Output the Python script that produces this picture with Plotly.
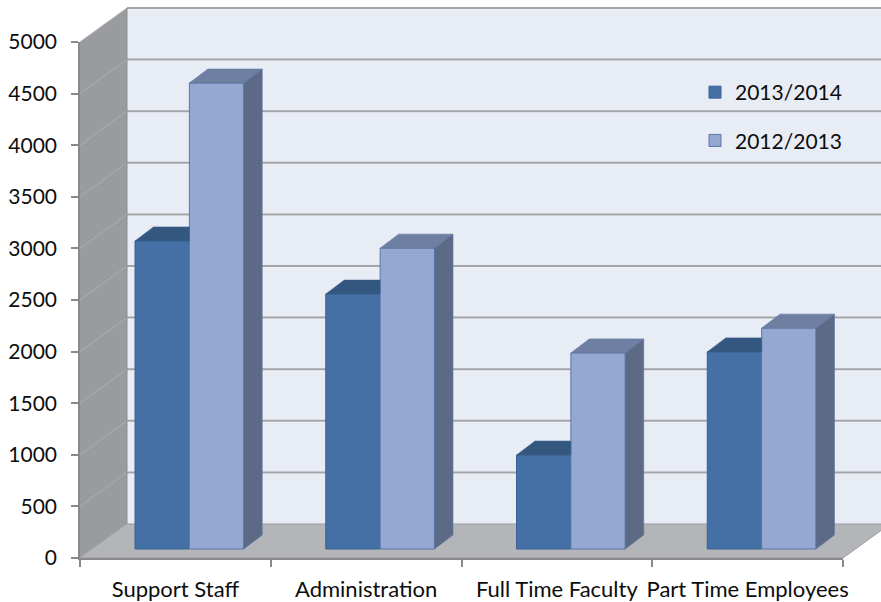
import plotly.graph_objects as go

# ---------------- data ----------------
categories = ["Support Staff", "Administration", "Full Time Faculty", "Part Time Employees"]
series_names = ["2013/2014", "2012/2013"]
values_2013_2014 = [2985, 2470, 910, 1910]
values_2012_2013 = [4515, 2915, 1900, 2140]
y_ticks = [0, 500, 1000, 1500, 2000, 2500, 3000, 3500, 4000, 4500, 5000]

# ---------------- style ----------------
FONT = "Lato"
FS = 21
FS_X = 22
W, H = 881, 602
ML, MR, MT, MB = 80, 38, 42, 44
PW, PH = W - ML - MR, H - MT - MB
YMAX = 5000

front_cols = ["#4470a5", "#95a8d1"]
top_cols = ["#34577f", "#6e7fa1"]
side_cols = ["#2f4d72", "#5c6a85"]
edge_cols = ["#3b6294", "#5a76a8"]

BARGAP = 0.43
WDX, WDY = 47 / PW, 34 / PH
BAR_SHIFT_X, BAR_SHIFT_Y = 14, 9
BAR_DX_PX, BAR_DY_PX = 18.5, 14

x_unit_px = PW / 4.0
y_unit_px = PH / YMAX
bx_off = BAR_SHIFT_X / x_unit_px
by_off = BAR_SHIFT_Y / y_unit_px
bdx = BAR_DX_PX / x_unit_px
bdy = BAR_DY_PX / y_unit_px

fig = go.Figure()
xpos = list(range(len(categories)))

# invisible anchor trace so the visible front axes get drawn with their ticks
fig.add_trace(go.Scatter(x=xpos, y=[0] * len(xpos), mode="markers",
                         marker=dict(opacity=0), showlegend=False, hoverinfo="skip"))

# ---------------- bars (front faces) ----------------
series = [values_2013_2014, values_2012_2013]
for i, (name, vals) in enumerate(zip(series_names, series)):
    fig.add_trace(go.Bar(
        x=xpos, y=vals, name=name, xaxis="x2", yaxis="y2",
        marker=dict(color=front_cols[i], line=dict(color=edge_cols[i], width=1)),
        legendgroup=name, hovertext=categories,
    ))

# ---------------- 3D faces (tops / sides) from data ----------------
w = (1 - BARGAP) / 2
for c in xpos:
    vd, vl = values_2013_2014[c], values_2012_2013[c]
    left = c - w
    if vd <= vl:
        xs = [left, c, c, left + bdx, left]
    else:
        xs = [left, c, c + bdx, left + bdx, left]
    ys = [vd, vd, vd + bdy, vd + bdy, vd]
    fig.add_trace(go.Scatter(x=xs, y=ys, xaxis="x2", yaxis="y2", mode="lines",
                             fill="toself", fillcolor=top_cols[0],
                             line=dict(color=edge_cols[0], width=0.6),
                             showlegend=False, hoverinfo="skip"))
    r = c + w
    fig.add_trace(go.Scatter(x=[c, r, r + bdx, c + bdx, c], y=[vl, vl, vl + bdy, vl + bdy, vl],
                             xaxis="x2", yaxis="y2", mode="lines", fill="toself",
                             fillcolor=top_cols[1], line=dict(color=edge_cols[1], width=0.6),
                             showlegend=False, hoverinfo="skip"))
    fig.add_trace(go.Scatter(x=[r, r, r + bdx, r + bdx, r], y=[0, vl, vl + bdy, bdy, 0],
                             xaxis="x2", yaxis="y2", mode="lines", fill="toself",
                             fillcolor=side_cols[1], line=dict(color=edge_cols[1], width=0.6),
                             showlegend=False, hoverinfo="skip"))

# ---------------- walls / floor ----------------
shapes = []
shapes.append(dict(type="rect", xref="paper", yref="paper", x0=WDX, x1=1 + WDX + 0.1,
                   y0=WDY, y1=1 + WDY, fillcolor="#e8ecf5", line=dict(width=0), layer="below"))
shapes.append(dict(type="path", xref="paper", yref="paper",
                   path=f"M0,0 L{WDX},{WDY} L{WDX},{1 + WDY} L0,1 Z",
                   fillcolor="#9a9b9f", line=dict(width=0), layer="below"))
shapes.append(dict(type="path", xref="paper", yref="paper",
                   path=f"M0,0 L1,0 L{1 + WDX},{WDY} L{WDX},{WDY} Z",
                   fillcolor="#b3b5b9", line=dict(color="#9c9ea2", width=1), layer="below"))
for t in y_ticks:
    yf = t / YMAX
    if t > 0:
        shapes.append(dict(type="line", xref="paper", yref="paper", x0=WDX, x1=1 + WDX + 0.1,
                           y0=yf + WDY - 0.002, y1=yf + WDY - 0.002,
                           line=dict(color="#f4f6fa", width=1.2), layer="below"))
        shapes.append(dict(type="line", xref="paper", yref="paper", x0=WDX, x1=1 + WDX + 0.1,
                           y0=yf + WDY, y1=yf + WDY,
                           line=dict(color="#a3a4a8", width=2), layer="below"))
    shapes.append(dict(type="line", xref="paper", yref="paper", x0=0, x1=WDX,
                       y0=yf, y1=yf + WDY, line=dict(color="#aeafb3", width=1), layer="below"))
shapes.append(dict(type="line", xref="paper", yref="paper", x0=WDX, x1=WDX, y0=WDY, y1=1 + WDY,
                   line=dict(color="#8e8f93", width=1), layer="below"))

axis_line = "#8a8a8a"
fig.update_layout(
    width=W, height=H,
    margin=dict(l=ML, r=MR, t=MT, b=MB, pad=0, autoexpand=False),
    paper_bgcolor="white", plot_bgcolor="rgba(0,0,0,0)",
    font=dict(family=FONT, size=FS, color="#0d0d0d"),
    barmode="group", bargap=BARGAP, bargroupgap=0,
    shapes=shapes,
    showlegend=True,
    legend=dict(x=(695 - ML) / PW, y=(H - MB - 72) / PH, xanchor="left", yanchor="top",
                bgcolor="rgba(0,0,0,0)", font=dict(size=FS, family=FONT, color="#0d0d0d"),
                traceorder="grouped", tracegroupgap=18, itemwidth=30),
    xaxis=dict(range=[-0.5, 3.5], tickvals=xpos, ticktext=categories, showgrid=False,
               zeroline=False, showline=True, linecolor=axis_line, linewidth=1.5,
               ticks="", ticklabelstandoff=11, fixedrange=True, automargin=False,
               tickfont=dict(size=FS_X),
               minor=dict(tickvals=[-0.5, 0.5, 1.5, 2.5, 3.5], ticks="outside", ticklen=7,
                          tickcolor=axis_line, tickwidth=1.5, showgrid=False)),
    yaxis=dict(range=[0, YMAX], tickvals=y_ticks, showgrid=False, zeroline=False,
               showline=True, linecolor=axis_line, linewidth=1.5,
               ticks="outside", ticklen=7, tickcolor=axis_line, tickwidth=1.5,
               ticklabelstandoff=10, fixedrange=True, automargin=False),
    xaxis2=dict(overlaying="x", range=[-0.5 - bx_off, 3.5 - bx_off], visible=False),
    yaxis2=dict(overlaying="y", range=[-by_off, YMAX - by_off], visible=False),
)

fig.write_html("out.html")
